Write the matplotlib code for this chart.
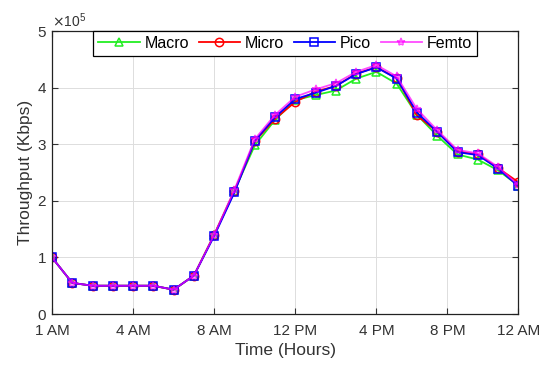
import matplotlib.pyplot as plt
from matplotlib.ticker import ScalarFormatter
import numpy as np

plt.rcParams['font.family'] = ['Liberation Sans', 'DejaVu Sans']

hours = np.arange(1, 25)
tick_pos = [1, 5, 9, 13, 17, 20.5, 24]
tick_labels = ["1 AM", "4 AM", "8 AM", "12 PM", "4 PM", "8 PM", "12 AM"]

macro = [1.00, 0.55, 0.50, 0.50, 0.50, 0.50, 0.43, 0.68, 1.40, 2.18, 2.98, 3.43,
         3.78, 3.87, 3.95, 4.16, 4.28, 4.07, 3.52, 3.15, 2.82, 2.73, 2.54, 2.27]
micro = [1.00, 0.55, 0.50, 0.50, 0.50, 0.50, 0.43, 0.68, 1.40, 2.17, 3.05, 3.45,
         3.75, 3.93, 4.03, 4.25, 4.36, 4.17, 3.51, 3.22, 2.87, 2.82, 2.58, 2.33]
pico = [1.00, 0.55, 0.50, 0.50, 0.50, 0.50, 0.43, 0.68, 1.38, 2.15, 3.06, 3.48,
        3.80, 3.91, 4.03, 4.24, 4.36, 4.16, 3.56, 3.22, 2.86, 2.81, 2.57, 2.26]
femto = [1.00, 0.55, 0.50, 0.50, 0.50, 0.50, 0.43, 0.68, 1.40, 2.20, 3.09, 3.52,
         3.84, 3.97, 4.08, 4.28, 4.40, 4.20, 3.62, 3.25, 2.90, 2.84, 2.60, 2.28]

series = [
    ("Macro", macro, '#22ee22', '^', 1.0),
    ("Micro", micro, '#ff0000', 'o', 1.0),
    ("Pico", pico, '#0000ff', 's', 1.0),
    ("Femto", femto, '#ff00ff', '*', 0.7),
]

fig = plt.figure(figsize=(5.5, 3.66), dpi=100)
ax = fig.add_axes([0.0945, 0.142, 0.848, 0.773])

for name, vals, col, mk, a in series:
    ax.plot(hours, np.array(vals) * 1e5, color=col, marker=mk, markersize=6,
            markerfacecolor='none', markeredgewidth=1.1, linewidth=1.3,
            alpha=a, label=name)

ax.set_xlim(1, 24)
ax.set_ylim(0, 5e5)
ax.set_xticks(tick_pos)
ax.set_xticklabels(tick_labels)
ax.set_yticks(np.arange(0, 6) * 1e5)

fmt = ScalarFormatter(useMathText=True)
fmt.set_powerlimits((0, 0))
ax.yaxis.set_major_formatter(fmt)
ax.yaxis.get_offset_text().set_fontsize(10)
ax.yaxis.get_offset_text().set_color('#333333')

ax.grid(True, color='#dddddd', linewidth=0.7)
ax.tick_params(direction='in', top=True, right=True, labelsize=11,
               colors='#333333', length=4)
ax.tick_params(axis='x', pad=7)
for s in ax.spines.values():
    s.set_color('#222222')
    s.set_linewidth(0.9)

ax.set_xlabel("Time (Hours)", fontsize=12.5, color='#333333', labelpad=4)
ax.set_ylabel("Throughput (Kbps)", fontsize=12.5, color='#333333', labelpad=3)

leg = ax.legend(loc='upper center', ncol=4, fontsize=11.5, fancybox=False,
                edgecolor='black', framealpha=1, borderaxespad=0,
                handlelength=2.6, columnspacing=0.6, handletextpad=0.3,
                borderpad=0.3)
leg.get_frame().set_linewidth(0.9)

fig.savefig("out.png", dpi=100)
